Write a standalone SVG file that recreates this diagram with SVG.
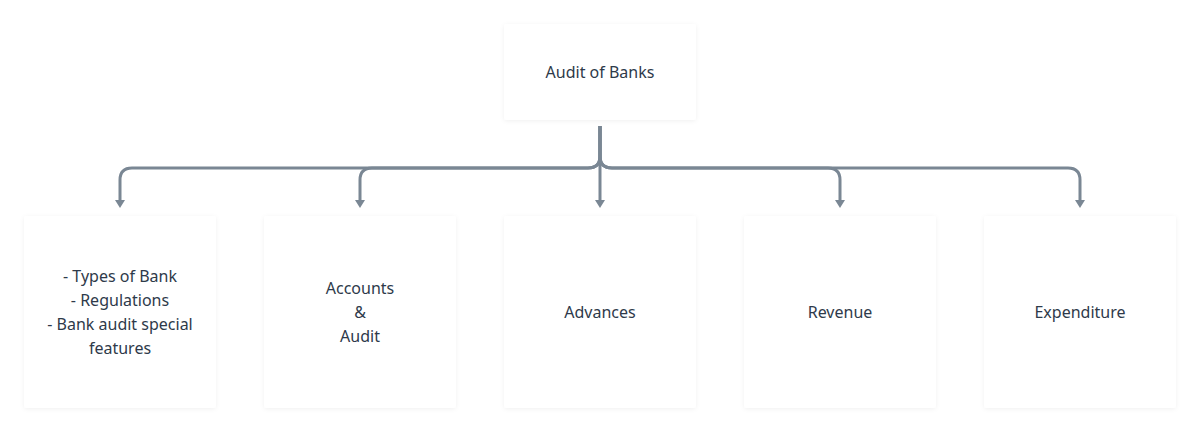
<svg xmlns="http://www.w3.org/2000/svg" width="1200" height="432" viewBox="0 0 1200 432">
<style>
.box{fill:#ffffff;filter:url(#sh)}
.t{font-family:"Noto Sans","Liberation Sans",sans-serif;font-size:16px;fill:#2e3a4a;text-anchor:middle;dominant-baseline:central}
.c{fill:none;stroke:#7a8794;stroke-width:3;stroke-linejoin:round}
</style>
<defs>
<filter id="sh" x="-10%" y="-10%" width="120%" height="120%">
<feDropShadow dx="0" dy="1" stdDeviation="2" flood-color="#000" flood-opacity="0.06"/>
</filter>
<marker id="ah" markerWidth="12" markerHeight="10" refX="6" refY="0" orient="auto" markerUnits="userSpaceOnUse" viewBox="0 -1 12 10">
<path d="M0,0 L12,0 L6,8 Z" fill="#7a8794" transform="rotate(-90 6 0) translate(-0,0)"/>
</marker>
<marker id="ad" markerWidth="12" markerHeight="10" refX="5" refY="0" orient="0" markerUnits="userSpaceOnUse" viewBox="0 -1 10 10">
<path d="M0,0 L10,0 L5,8 Z" fill="#7a8794"/>
</marker>
</defs>
<rect width="1200" height="432" fill="#ffffff"/>
<g id="connectors">
<path class="c" d="M600,126 L600,156 Q600,168 588,168 L132,168 Q120,168 120,180 L120,200" marker-end="url(#ad)"/>
<path class="c" d="M600,126 L600,156 Q600,168 588,168 L372,168 Q360,168 360,180 L360,200" marker-end="url(#ad)"/>
<path class="c" d="M600,126 L600,200" marker-end="url(#ad)"/>
<path class="c" d="M600,126 L600,156 Q600,168 612,168 L828,168 Q840,168 840,180 L840,200" marker-end="url(#ad)"/>
<path class="c" d="M600,126 L600,156 Q600,168 612,168 L1068,168 Q1080,168 1080,180 L1080,200" marker-end="url(#ad)"/>
</g>
<g id="root"><rect class="box" x="504" y="24" width="192" height="96" rx="3"/><text class="t" x="600" y="72">Audit of Banks</text></g>
<g id="n1"><rect class="box" x="24" y="216" width="192" height="192" rx="3"/><text class="t" x="120" y="276">- Types of Bank</text><text class="t" x="120" y="300">- Regulations</text><text class="t" x="120" y="324">- Bank audit special</text><text class="t" x="120" y="348">features</text></g>
<g id="n2"><rect class="box" x="264" y="216" width="192" height="192" rx="3"/><text class="t" x="360" y="288">Accounts</text><text class="t" x="360" y="312">&amp;</text><text class="t" x="360" y="336">Audit</text></g>
<g id="n3"><rect class="box" x="504" y="216" width="192" height="192" rx="3"/><text class="t" x="600" y="312">Advances</text></g>
<g id="n4"><rect class="box" x="744" y="216" width="192" height="192" rx="3"/><text class="t" x="840" y="312">Revenue</text></g>
<g id="n5"><rect class="box" x="984" y="216" width="192" height="192" rx="3"/><text class="t" x="1080" y="312">Expenditure</text></g>
</svg>
